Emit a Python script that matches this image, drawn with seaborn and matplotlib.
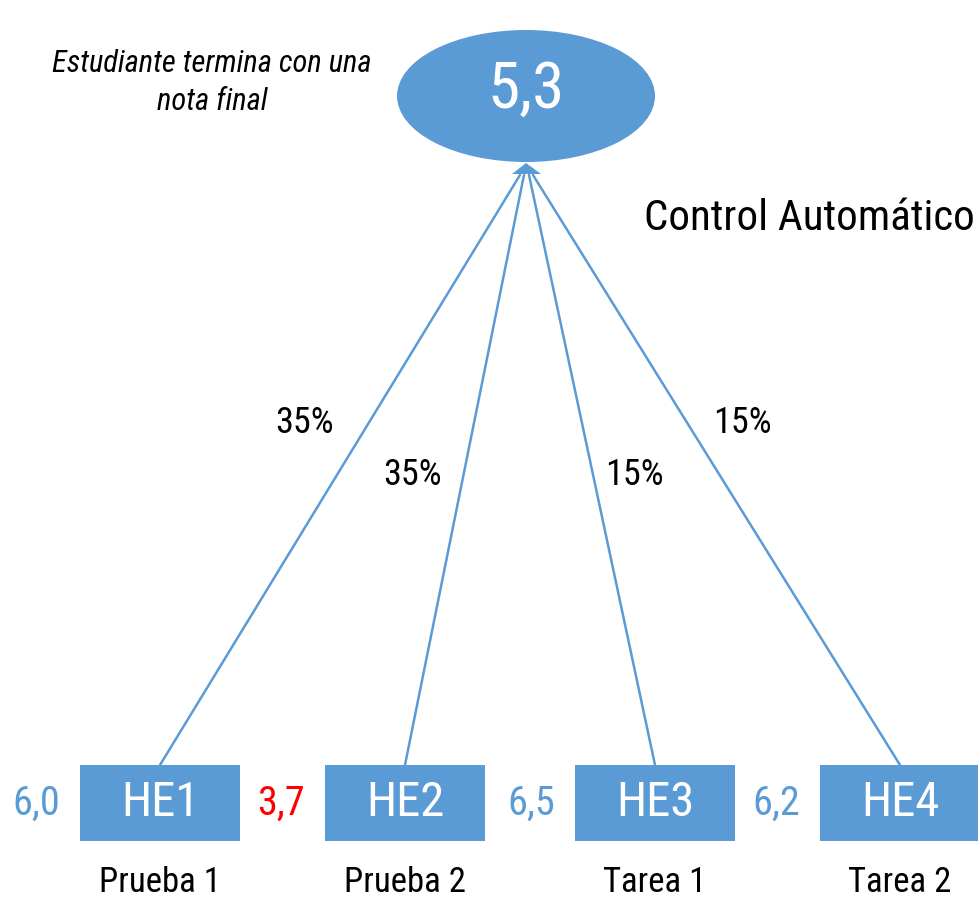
import numpy as np
import matplotlib
matplotlib.use("Agg")
import matplotlib.pyplot as plt
import seaborn as sns
from matplotlib.patches import Ellipse, Rectangle, Polygon

sns.set_theme(style="white")
plt.rcParams['font.family'] = ['Roboto Condensed', 'Liberation Sans', 'DejaVu Sans']
plt.rcParams['text.color'] = 'black'

# data
codes = ['HE1', 'HE2', 'HE3', 'HE4']
names = ['Prueba 1', 'Prueba 2', 'Tarea 1', 'Tarea 2']
scores = [6.0, 3.7, 6.5, 6.2]
weights = [35, 35, 15, 15]
final_grade = 5.3

blue = '#5B9BD5'

fig = plt.figure(figsize=(9.79, 8.98), dpi=100)
ax = fig.add_axes([0, 0, 1, 1])
ax.set_xlim(0, 979)
ax.set_ylim(898, 0)
ax.axis('off')

# layout (pixel space)
box_left = [80, 325, 575, 820]
box_w, box_top, box_h = 160, 765, 76
ends_x = [520, 524, 529, 533]
end_y = 175
pct_pos = [(305, 423), (413, 475), (634, 475), (742, 423)]

def fmt(v):
    return f"{v:.1f}".replace('.', ',')

# top ellipse
ax.add_patch(Ellipse((526, 96), 258, 132, color=blue, lw=0))
ax.text(526, 90, fmt(final_grade), color='white', fontsize=47, ha='center', va='center')

for i, code in enumerate(codes):
    x0 = box_left[i]
    cx = x0 + box_w / 2
    ax.plot([cx, ends_x[i]], [box_top, end_y], color=blue, lw=1.8)
    ax.add_patch(Rectangle((x0, box_top), box_w, box_h, color=blue, lw=0))
    ax.text(cx, box_top + box_h / 2, code, color='white', fontsize=35, ha='center', va='center')
    col = 'red' if scores[i] < 4 else blue
    ax.text(x0 - 44, box_top + box_h / 2, fmt(scores[i]), color=col, fontsize=29, ha='center', va='center')
    ax.text(cx, 882, names[i], fontsize=25, ha='center', va='center')
    ax.text(pct_pos[i][0], pct_pos[i][1], f"{weights[i]}%", fontsize=26, ha='center', va='center')

# arrowhead
ax.add_patch(Polygon([[512, 174], [526, 163], [541, 174]], closed=True, color=blue, lw=0))

ax.text(212, 63, 'Estudiante termina con una', style='italic', fontsize=22, ha='center', va='center')
ax.text(212, 101, 'nota final', style='italic', fontsize=22, ha='center', va='center')
ax.text(975, 218, 'Control Automático', fontsize=31, ha='right', va='center')

fig.savefig('out.png', dpi=100, facecolor='white')
